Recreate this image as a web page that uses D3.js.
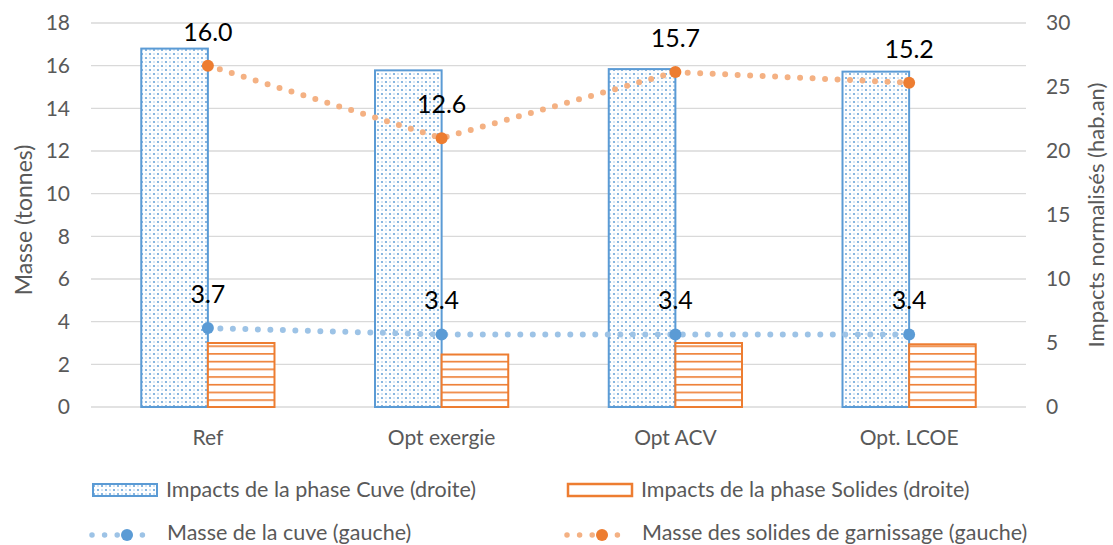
<!DOCTYPE html>
<html><head><meta charset="utf-8">
<script src="https://cdn.jsdelivr.net/npm/d3@7"></script>
<style>
body{margin:0;background:#fff;}
svg{display:block;font-family:Lato,"Open Sans",sans-serif;}
</style></head>
<body><svg id="chart" width="1113" height="545"></svg>
<script>
// Scenario categories
const categories = ["Ref", "Opt exergie", "Opt ACV", "Opt. LCOE"];
// Normalised impacts (right axis, hab.an)
const impactsCuve = [28.0, 26.3, 26.4, 26.2];
const impactsSolides = [5.0, 4.1, 5.0, 4.9];
// Masses (left axis, tonnes)
const masseCuve = [3.7, 3.4, 3.4, 3.4];
const masseSolides = [16.0, 12.6, 15.7, 15.2];
// Axis ticks
const leftTicks = [0, 2, 4, 6, 8, 10, 12, 14, 16, 18];
const rightTicks = [0, 5, 10, 15, 20, 25, 30];

const svg = d3.select("#chart");
const m = {left: 91, right: 1026, top: 23, bottom: 407};

const x = d3.scaleBand().domain(categories).range([m.left, m.right]).paddingInner(0.43).paddingOuter(0.215);
const yL = d3.scaleLinear().domain([0, 18]).range([m.bottom, m.top]);
const yR = d3.scaleLinear().domain([0, 30]).range([m.bottom, m.top]);

const blue = "#5B9BD5", orange = "#ED7D31";
const textGrey = "#595959";
const tickFont = 21;

// Fill patterns
const defs = svg.append("defs");
const pDots = defs.append("pattern").attr("id", "dots").attr("patternUnits", "userSpaceOnUse")
  .attr("width", 8).attr("height", 8);
pDots.append("rect").attr("width", 8).attr("height", 8).attr("fill", "#fff");
[[2,2],[6,6],[6,2],[2,6]].forEach(([cx, cy], i) => {
  pDots.append("circle").attr("cx", cx).attr("cy", cy).attr("r", i < 2 ? 1.1 : 0.8)
    .attr("fill", blue).attr("opacity", i < 2 ? 0.9 : 0.6);
});
const pLines = defs.append("pattern").attr("id", "hlines").attr("patternUnits", "userSpaceOnUse")
  .attr("width", 8).attr("height", 7.7).attr("y", m.bottom);
pLines.append("rect").attr("width", 8).attr("height", 7.7).attr("fill", "#fff");
pLines.append("rect").attr("y", 0).attr("width", 8).attr("height", 1.6).attr("fill", orange);

// Gridlines
svg.append("g").selectAll("line").data(leftTicks).join("line")
  .attr("x1", m.left).attr("x2", m.right)
  .attr("y1", d => yL(d)).attr("y2", d => yL(d))
  .attr("stroke", "#d9d9d9").attr("stroke-width", 1.3);

// Left axis
const axL = svg.append("g").attr("transform", `translate(${m.left},0)`)
  .call(d3.axisLeft(yL).tickValues(leftTicks).tickSize(0).tickPadding(21));
axL.select(".domain").remove();
axL.selectAll("text").attr("font-size", tickFont).attr("fill", textGrey).attr("font-family", "Lato,sans-serif");

// Right axis
const axR = svg.append("g").attr("transform", `translate(${m.right},0)`)
  .call(d3.axisRight(yR).tickValues(rightTicks).tickSize(0).tickPadding(20));
axR.select(".domain").remove();
axR.selectAll("text").attr("font-size", tickFont).attr("fill", textGrey).attr("font-family", "Lato,sans-serif");

// Category axis
const axX = svg.append("g").attr("transform", `translate(0,${m.bottom})`)
  .call(d3.axisBottom(x).tickSize(0).tickPadding(23));
axX.select(".domain").remove();
axX.selectAll("text").attr("font-size", tickFont).attr("fill", textGrey).attr("font-family", "Lato,sans-serif");

// Axis titles
svg.append("text").attr("transform", `translate(32,${(m.top+m.bottom)/2 + 5}) rotate(-90)`)
  .attr("text-anchor", "middle").attr("font-size", 23).attr("fill", textGrey).text("Masse (tonnes)");
svg.append("text").attr("transform", `translate(1104,${(m.top+m.bottom)/2}) rotate(-90)`)
  .attr("text-anchor", "middle").attr("font-size", 22).attr("fill", textGrey).text("Impacts normalisés (hab.an)");

const bw = x.bandwidth() / 2;
// Cuve impact bars
svg.append("g").selectAll("rect").data(categories).join("rect")
  .attr("x", d => x(d)).attr("width", bw)
  .attr("y", (d, i) => yR(impactsCuve[i])).attr("height", (d, i) => yR(0) - yR(impactsCuve[i]))
  .attr("fill", "url(#dots)").attr("stroke", blue).attr("stroke-width", 2);
// Solides impact bars
svg.append("g").selectAll("rect").data(categories).join("rect")
  .attr("x", d => x(d) + bw).attr("width", bw)
  .attr("y", (d, i) => yR(impactsSolides[i])).attr("height", (d, i) => yR(0) - yR(impactsSolides[i]))
  .attr("fill", "url(#hlines)").attr("stroke", orange).attr("stroke-width", 2);

const cx = d => x(d) + x.bandwidth() / 2;

function drawLine(vals, dotColor, markColor) {
  const pts = categories.map((c, i) => [cx(c), yL(vals[i])]);
  svg.append("path").attr("d", d3.line()(pts)).attr("fill", "none")
    .attr("stroke", dotColor).attr("stroke-width", 6).attr("stroke-linecap", "round")
    .attr("stroke-dasharray", "0 12.5");
  svg.append("g").selectAll("circle").data(pts).join("circle")
    .attr("cx", d => d[0]).attr("cy", d => d[1]).attr("r", 6).attr("fill", markColor);
  svg.append("g").selectAll("text").data(vals).join("text")
    .attr("x", (d, i) => cx(categories[i])).attr("y", d => yL(d) - 25)
    .attr("text-anchor", "middle").attr("font-size", 25).attr("fill", "#000")
    .text(d => d.toFixed(1));
}
drawLine(masseCuve, "#9DC3E6", blue);
drawLine(masseSolides, "#F4B183", orange);

// Legend
const lg = svg.append("g").attr("font-size", 21.5).attr("fill", textGrey);
lg.append("rect").attr("x", 93).attr("y", 484).attr("width", 64).attr("height", 12)
  .attr("fill", "url(#dots)").attr("stroke", blue).attr("stroke-width", 2);
lg.append("text").attr("x", 166).attr("y", 497).text("Impacts de la phase Cuve (droite)");
lg.append("rect").attr("x", 568).attr("y", 484).attr("width", 64).attr("height", 12)
  .attr("fill", "#fff").attr("stroke", orange).attr("stroke-width", 2.5);
lg.append("text").attr("x", 641).attr("y", 497).text("Impacts de la phase Solides (droite)");

function legLine(x0, color, mark, label) {
  lg.append("line").attr("x1", x0).attr("x2", x0 + 63).attr("y1", 535).attr("y2", 535)
    .attr("stroke", color).attr("stroke-width", 5.5).attr("stroke-linecap", "round").attr("stroke-dasharray", "0 12.6");
  lg.append("circle").attr("cx", x0 + 35).attr("cy", 535).attr("r", 6).attr("fill", mark);
  lg.append("text").attr("x", x0 + 75).attr("y", 540).text(label);
}
legLine(92, "#9DC3E6", blue, "Masse de la cuve (gauche)");
legLine(567, "#F4B183", orange, "Masse des solides de garnissage (gauche)");
</script></body></html>
